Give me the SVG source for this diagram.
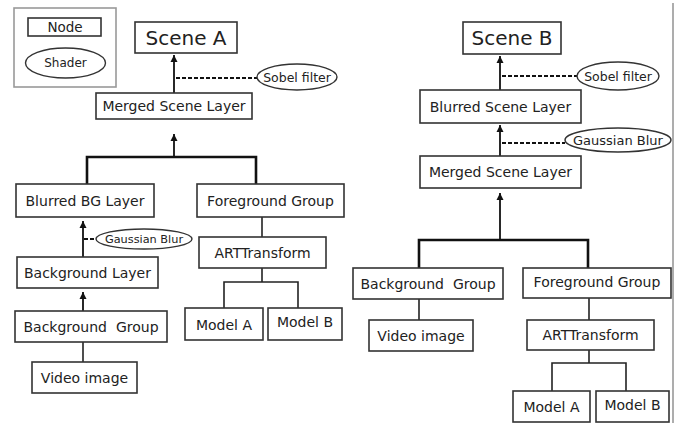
<svg xmlns="http://www.w3.org/2000/svg" width="679" height="423" viewBox="0 0 679 423">
<defs>
<marker id="ah" viewBox="0 0 10 10" refX="10" refY="5" markerWidth="7" markerHeight="10" markerUnits="userSpaceOnUse" orient="auto">
<path d="M0,0 L10,5 L0,10 Z" fill="#111"/>
</marker>
</defs>
<style>
.n{fill:#fff;stroke:#333;stroke-width:1.6}
.sh{fill:#fff;stroke:#333;stroke-width:1.4}
.t{font-family:"DejaVu Sans",Verdana,sans-serif;font-size:14px;fill:#222;text-anchor:middle;dominant-baseline:central}
.big{font-size:20px}
.s{font-size:12.5px}
.ln{fill:none;stroke:#222;stroke-width:1.6}
.thick{fill:none;stroke:#111;stroke-width:2.6}
.ar{fill:none;stroke:#111;stroke-width:1.8;marker-end:url(#ah)}
.da{fill:none;stroke:#111;stroke-width:1.8;stroke-dasharray:4 2}
</style>
<rect width="679" height="423" fill="#fff"/>
<g id="legend">
<rect x="14" y="8" width="102" height="79" fill="#fff" stroke="#999" stroke-width="1.6"/>
<rect class="n" x="28" y="18" width="73" height="18"/>
<text class="t" x="65" y="27" style="font-size:13.5px">Node</text>
<ellipse class="sh" cx="65.5" cy="63" rx="40" ry="15"/>
<text class="t" x="65.5" y="63" style="font-size:12px">Shader</text>
</g>
<g id="connectors">
<line class="ar" x1="174" y1="93" x2="174" y2="55"/>
<line class="da" x1="176" y1="78" x2="257" y2="78"/>
<line class="ar" x1="174" y1="157" x2="174" y2="134"/>
<path class="thick" d="M87,184 V157 H256 V184"/>
<line class="ln" x1="262" y1="217" x2="262" y2="237"/>
<line class="ar" x1="83" y1="257" x2="83" y2="221"/>
<line class="da" x1="84" y1="239" x2="96" y2="239"/>
<line class="ar" x1="83" y1="311" x2="83" y2="292"/>
<line class="ln" x1="83" y1="342" x2="83" y2="362"/>
<path class="ln" d="M262,268 V282 M224,308 V282 H298 V308"/>
<line class="ar" x1="500" y1="90" x2="500" y2="56"/>
<line class="da" x1="502" y1="76" x2="577" y2="76"/>
<line class="ar" x1="500" y1="156" x2="500" y2="125"/>
<line class="da" x1="502" y1="143" x2="565" y2="143"/>
<line class="ar" x1="500" y1="240" x2="500" y2="193"/>
<path class="thick" d="M419,268 V240 H588 V268"/>
<line class="ln" x1="419" y1="299" x2="419" y2="320"/>
<line class="ln" x1="589" y1="298" x2="589" y2="320"/>
<path class="ln" d="M589,350 V363 M552,391 V363 H626 V391"/>
<line x1="673" y1="3" x2="673" y2="423" stroke="#999" stroke-width="1.6"/>
</g>
<g id="sceneA"><rect class="n" x="135" y="22" width="102" height="31"/><text class="t big" x="186" y="37.5">Scene A</text></g>
<g id="sobelA"><ellipse class="sh" cx="297" cy="77" rx="40" ry="13"/><text class="t s" x="297" y="77">Sobel filter</text></g>
<g id="mergedA"><rect class="n" x="96" y="93" width="156" height="26"/><text class="t" x="174" y="106">Merged Scene Layer</text></g>
<g id="blurredBG"><rect class="n" x="16" y="184" width="138" height="33"/><text class="t" x="85" y="200.5">Blurred BG Layer</text></g>
<g id="fgGroupA"><rect class="n" x="197" y="184" width="147" height="33"/><text class="t" x="270.5" y="200.5">Foreground Group</text></g>
<g id="gaussA"><ellipse class="sh" cx="144" cy="239" rx="48" ry="10"/><text class="t" x="144" y="239" style="font-size:11.3px">Gaussian Blur</text></g>
<g id="artA"><rect class="n" x="199" y="237" width="127" height="31"/><text class="t" x="262.5" y="252.5">ARTTransform</text></g>
<g id="bgLayer"><rect class="n" x="17" y="257" width="141" height="31"/><text class="t" x="87.5" y="272.5">Background Layer</text></g>
<g id="bgGroupA"><rect class="n" x="15" y="311" width="152" height="31"/><text class="t" x="91" y="326.5">Background&#160; Group</text></g>
<g id="videoA"><rect class="n" x="32" y="362" width="105" height="31"/><text class="t" x="84.5" y="377.5">Video image</text></g>
<g id="modelA1"><rect class="n" x="185" y="308" width="78" height="32"/><text class="t" x="224" y="324.5">Model A</text></g>
<g id="modelB1"><rect class="n" x="268" y="308" width="74" height="32"/><text class="t" x="305" y="322">Model B</text></g>
<g id="sceneB"><rect class="n" x="463" y="22" width="98" height="32"/><text class="t big" x="512" y="38">Scene B</text></g>
<g id="sobelB"><ellipse class="sh" cx="618" cy="76" rx="41" ry="14"/><text class="t s" x="618" y="76">Sobel filter</text></g>
<g id="blurredScene"><rect class="n" x="420" y="90" width="161" height="33"/><text class="t" x="500.5" y="106.5">Blurred Scene Layer</text></g>
<g id="gaussB"><ellipse class="sh" cx="618" cy="140" rx="53" ry="12"/><text class="t" x="618" y="140" style="font-size:13px">Gaussian Blur</text></g>
<g id="mergedB"><rect class="n" x="420" y="156" width="161" height="32"/><text class="t" x="500.5" y="172">Merged Scene Layer</text></g>
<g id="bgGroupB"><rect class="n" x="353" y="268" width="150" height="31"/><text class="t" x="428" y="284">Background&#160; Group</text></g>
<g id="fgGroupB"><rect class="n" x="523" y="268" width="148" height="30"/><text class="t" x="597" y="282">Foreground Group</text></g>
<g id="videoB"><rect class="n" x="369" y="320" width="104" height="31"/><text class="t" x="421" y="335.5">Video image</text></g>
<g id="artB"><rect class="n" x="527" y="320" width="127" height="30"/><text class="t" x="590.5" y="335">ARTTransform</text></g>
<g id="modelA2"><rect class="n" x="513" y="391" width="77" height="31"/><text class="t" x="551.5" y="407">Model A</text></g>
<g id="modelB2"><rect class="n" x="596" y="391" width="73" height="31"/><text class="t" x="632.5" y="405">Model B</text></g>
</svg>
